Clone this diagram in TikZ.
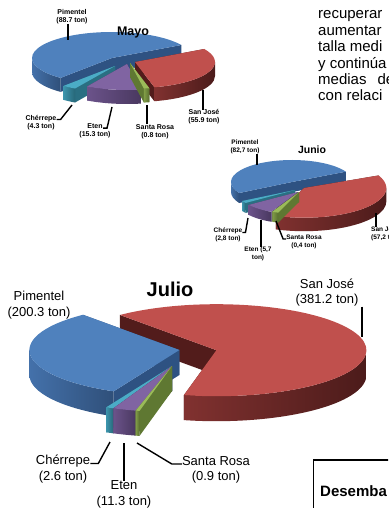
\documentclass[tikz,border=0pt]{standalone}
\usepackage{fontspec}
\setmainfont{Liberation Sans}
\usepackage{tikz}

\definecolor{pblue}{HTML}{4F81BD}
\definecolor{pbluew}{HTML}{3F6AA2}
\definecolor{pbluef}{HTML}{2E5282}
\definecolor{pred}{HTML}{C0504D}
\definecolor{predw}{HTML}{652423}
\definecolor{predf}{HTML}{521C1B}
\definecolor{pgreen}{HTML}{9BBB59}
\definecolor{pgreenw}{HTML}{76913F}
\definecolor{pgreenf}{HTML}{5F7832}
\definecolor{ppurple}{HTML}{8064A2}
\definecolor{ppurplew}{HTML}{624B80}
\definecolor{ppurplef}{HTML}{4E3B68}
\definecolor{pcyan}{HTML}{4BACC6}
\definecolor{pcyanw}{HTML}{3589A0}
\definecolor{pcyanf}{HTML}{2A6F82}

\tikzset{
  leader/.style={draw=black,line width=1.4pt},
  mlbl/.style={font=\fontsize{7}{8}\selectfont\bfseries,align=center,inner sep=0pt},
  jlbl/.style={font=\fontsize{6.5}{7.5}\selectfont\bfseries,align=center,inner sep=0pt},
  ulbl/.style={font=\fontsize{13}{15.5}\selectfont,align=center,inner sep=0pt},
  mtitle/.style={font=\fontsize{12.5}{14}\selectfont\bfseries,inner sep=0pt},
  jtitle/.style={font=\fontsize{10.5}{12}\selectfont\bfseries,inner sep=0pt},
  utitle/.style={font=\fontsize{20}{22}\selectfont\bfseries,inner sep=0pt},
  para/.style={font=\fontsize{15}{16.4}\selectfont,anchor=base west,inner sep=0pt}
}

% one slice of a 3d pie: start, end, colour, dx, dy, scale
\newcommand{\pieslice}[6]{%
  \pgfmathsetmacro\pRx{\crx*#6}%
  \pgfmathsetmacro\pRy{\cry*#6}%
  \pgfmathsetmacro\pDp{\cdp*#6}%
  \pgfmathsetmacro\pAx{\ccx+#4}%
  \pgfmathsetmacro\pAy{\ccy+#5}%
  \pgfmathsetmacro\pSx{\pAx+\pRx*cos(#1)}%
  \pgfmathsetmacro\pSy{\pAy+\pRy*sin(#1)}%
  \pgfmathsetmacro\pEx{\pAx+\pRx*cos(#2)}%
  \pgfmathsetmacro\pEy{\pAy+\pRy*sin(#2)}%
  % cut faces
  \fill[#3f] (\pAx,\pAy) -- (\pSx,\pSy) -- ({\pSx},{\pSy-\pDp}) -- ({\pAx},{\pAy-\pDp}) -- cycle;
  \fill[#3f] (\pAx,\pAy) -- (\pEx,\pEy) -- ({\pEx},{\pEy-\pDp}) -- ({\pAx},{\pAy-\pDp}) -- cycle;
  % front wall
  \pgfmathsetmacro\pLo{max(#1,180)}%
  \pgfmathsetmacro\pHi{min(#2,360)}%
  \ifdim\pHi pt>\pLo pt
    \pgfmathsetmacro\pLx{\pAx+\pRx*cos(\pLo)}%
    \pgfmathsetmacro\pLy{\pAy+\pRy*sin(\pLo)}%
    \shade[left color=#3w!70!#3,right color=#3w!75!black] (\pLx,\pLy) arc[start angle=\pLo,end angle=\pHi,x radius=\pRx pt,y radius=\pRy pt]
      -- ++(0,-\pDp) arc[start angle=\pHi,end angle=\pLo,x radius=\pRx pt,y radius=\pRy pt] -- cycle;
  \fi
  % top
  \fill[#3] (\pAx,\pAy) -- (\pSx,\pSy) arc[start angle=#1,end angle=#2,x radius=\pRx pt,y radius=\pRy pt] -- cycle;
}

\begin{document}
\begin{tikzpicture}[x=1pt,y=1pt]
\useasboundingbox (0,0) rectangle (388,-508);
\clip (0,0) rectangle (388,-508);

%Mayo
\def\ccx{115}\def\ccy{-60}\def\crx{80}\def\cry{26}\def\cdp{14}
\pieslice{30}{230}{pblue}{-3}{2}{1}
\pieslice{284}{390}{pred}{20}{-2}{1}
\pieslice{230}{240}{pcyan}{0}{-6}{1}
\pieslice{240}{280}{ppurple}{12}{-4}{1}
\pieslice{280}{284}{pgreen}{15}{-3}{1}

\node[mtitle] (mTit) at (133,-32) {Mayo};
\node[mlbl] (mPim) at (72,-16.5) {Pimentel\\(88.7 ton)};
\node[mlbl] (mSJ) at (204,-117) {San José\\(55.9 ton)};
\node[mlbl] (mChe) at (41,-122.5) {Chérrepe\\(4.3 ton)};
\node[mlbl] (mEten) at (95,-130.5) {Eten\\(15.3 ton)};
\node[mlbl] (mSR) at (155,-131.5) {Santa Rosa\\(0.8 ton)};
\coordinate (mPimE) at (68,-40);
\coordinate (mSJE) at (203,-90);
\coordinate (mCheE) at (72,-105);
\coordinate (mEtenE) at (112,-107);
\coordinate (mSRE) at (147,-105);
\draw[leader] (mPimE |- mPim.south) -- (mPimE);
\draw[leader] (mSJE |- mSJ.north) -- (mSJE);
\draw[leader] (mChe.east) ++(0,3) -- ++(4,0) -- (mCheE);
\draw[leader] (mEten.north) ++(8,-5) -- ++(4,0) -- (mEtenE);
\draw[leader] (mSRE |- mSR.north) -- (mSRE);

%Junio
\def\ccx{292}\def\ccy{-182}\def\crx{61}\def\cry{22}\def\cdp{10}
\pieslice{28}{210}{pblue}{0}{0}{1}
\pieslice{250}{385}{pred}{12}{-6}{1.35}
\pieslice{210}{216}{pcyan}{3}{-8}{1}
\pieslice{216}{244}{ppurple}{6}{-10}{1}
\pieslice{244}{250}{pgreen}{7}{-10}{1}

\node[jtitle] (jTit) at (312,-150) {Junio};
\node[jlbl] (jPim) at (245,-147) {Pimentel\\(82,7 ton)};
\node[jlbl] (jChe) at (228,-235) {Chérrepe\\(2,8 ton)};
\node[jlbl] (jEten) at (258,-254) {Eten (5,7\\ton)};
\node[jlbl] (jSR) at (304,-242) {Santa Rosa\\(0,4 ton)};
\node[jlbl,align=left,anchor=north west] (jSJ) at (371,-227) {San José\\(57,2 ton)};
\coordinate (jPimE) at (257,-165);
\coordinate (jCheE) at (248,-218);
\coordinate (jEtenE) at (261,-220);
\coordinate (jSRE) at (276,-221);
\coordinate (jSJE) at (376,-213);
\draw[leader] (jPimE |- jPim.south) -- (jPimE);
\draw[leader] (jChe.east) ++(0,2.5) -- ++(3,0) -- (jCheE);
\draw[leader] (jEtenE |- jEten.north) -- (jEtenE);
\draw[leader] (jSR.west) ++(0,3) -- ++(-3,0) -- (jSRE);
\draw[leader] (jSJE |- jSJ.north) -- (jSJE);

%Julio
\def\ccx{200}\def\ccy{-352}\def\crx{150}\def\cry{46}\def\cdp{25}
\pieslice{257.5}{490}{pred}{16.4}{1.8}{1}
\pieslice{130}{244}{pblue}{-20.6}{2}{1}
\pieslice{244}{247}{pcyan}{-28}{-14}{1}
\pieslice{247}{256}{ppurple}{-28}{-14}{1}
\pieslice{256}{257.5}{pgreen}{-28}{-14}{1}

\node[utitle] (uTit) at (170,-289) {Julio};
\node[ulbl] (uPim) at (39,-305) {Pimentel\\(200.3 ton)};
\node[ulbl] (uSJ) at (327,-292.5) {San José\\(381.2 ton)};
\node[ulbl] (uChe) at (63,-469) {Chérrepe\\(2.6 ton)};
\node[ulbl] (uEten) at (124,-494.5) {Eten\\(11.3 ton)};
\node[ulbl] (uSR) at (216,-470) {Santa Rosa\\(0.9 ton)};
\coordinate (uSJE) at (362,-337);
\coordinate (uCheE) at (110,-442);
\coordinate (uEtenE) at (124,-443);
\coordinate (uSRE) at (137,-443);
\draw[leader] (uSJE |- uSJ.south) -- (uSJE);
\draw[leader] (uChe.east) ++(0,5.5) -- ++(8,0) -- (uCheE);
\draw[leader] (uEtenE |- uEten.north) -- (uEtenE);
\draw[leader] (uSR.west) ++(0,6) -- ++(-10,0) -- (uSRE);

%text beside the charts
\foreach \ln [count=\i] in {recuperar,aumentar,talla medi,y continúa,medias\hspace{11pt}de,con relaci}
  \node[para] (p\i) at (318,{-19-16.4*(\i-1)}) {\ln};

\draw[line width=1.6pt] (313.5,-460) rectangle (400,-520);
\node[font=\fontsize{15}{18}\selectfont\bfseries,anchor=base west,inner sep=0pt] (dsm) at (320,-496) {Desemba};
\end{tikzpicture}
\end{document}
